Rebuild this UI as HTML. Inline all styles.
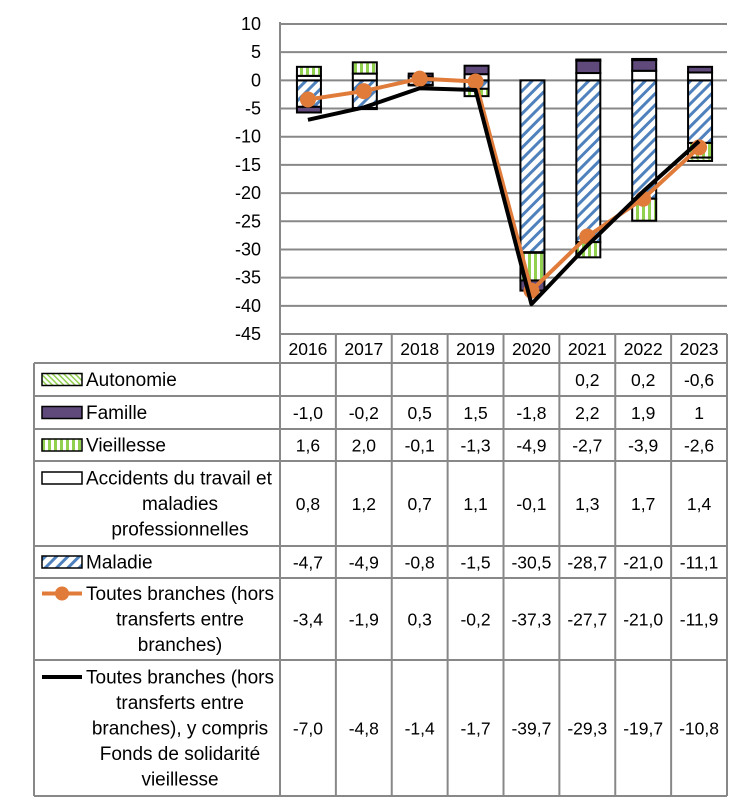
<!DOCTYPE html>
<html><head><meta charset="utf-8">
<style>
html,body{margin:0;padding:0;background:#fff;}
svg{display:block;font-family:"Liberation Sans",sans-serif;}
</style></head>
<body>
<svg id="chart" width="750" height="806" viewBox="0 0 750 806" xmlns="http://www.w3.org/2000/svg">
<defs>
<pattern id="pMal" patternUnits="userSpaceOnUse" width="8" height="8" patternTransform="rotate(45)">
<rect width="8" height="8" fill="#fff"/><rect x="0" width="3" height="8" fill="#4f81bd"/></pattern>
<pattern id="pVie" patternUnits="userSpaceOnUse" width="6" height="6">
<rect width="6" height="6" fill="#fff"/><rect x="0" width="3" height="6" fill="#92d050"/></pattern>
<pattern id="pAut" patternUnits="userSpaceOnUse" width="4" height="4" patternTransform="rotate(-45)">
<rect width="4" height="4" fill="#fff"/><rect x="0" width="1.5" height="4" fill="#92d050"/></pattern>
</defs>
<g id="grid"></g>
<g id="bars"></g>
<g id="lines"></g>
<g id="table"></g>
</svg>
<script>
const years=['2016','2017','2018','2019','2020','2021','2022','2023'];
const maladie=[-4.7,-4.9,-0.8,-1.5,-30.5,-28.7,-21.0,-11.1];
const accidents=[0.8,1.2,0.7,1.1,-0.1,1.3,1.7,1.4];
const vieillesse=[1.6,2.0,-0.1,-1.3,-4.9,-2.7,-3.9,-2.6];
const famille=[-1.0,-0.2,0.5,1.5,-1.8,2.2,1.9,1];
const autonomie=[null,null,null,null,null,0.2,0.2,-0.6];
const toutes=[-3.4,-1.9,0.3,-0.2,-37.3,-27.7,-21.0,-11.9];
const toutesFsv=[-7.0,-4.8,-1.4,-1.7,-39.7,-29.3,-19.7,-10.8];
const yTicks=[10,5,0,-5,-10,-15,-20,-25,-30,-35,-40,-45];
const fmt=v=>v==null?'':(Number.isInteger(v)&&v===1?'1':v.toFixed(1).replace('.',','));

const NS='http://www.w3.org/2000/svg';
const X0=280,X1=727,Y10=24,Ym45=334;
const cw=(X1-X0)/years.length;
const y=v=>Y10+(10-v)*(Ym45-Y10)/55;
const xc=i=>X0+cw*(i+0.5);
function mk(tag,attrs,parent,text){const e=document.createElementNS(NS,tag);for(const k in attrs)e.setAttribute(k,attrs[k]);if(text!=null)e.textContent=text;parent.appendChild(e);return e;}
const G=document.getElementById('grid'),B=document.getElementById('bars'),L=document.getElementById('lines'),T=document.getElementById('table');

yTicks.forEach(t=>{
 const ln=mk('line',{x1:X0,x2:X1,y1:y(t),y2:y(t),stroke:'#888','stroke-width':2},G);
 
 
 const tx=mk('text',{x:261,y:y(t)+6,'text-anchor':'end','font-size':18,fill:'#000'},G,String(t));
 
 
});
const ax=mk('line',{x1:X0,x2:X0,y1:Y10-2,y2:Ym45,stroke:'#888','stroke-width':2},G);



const series=[['maladie',maladie,'url(#pMal)'],['accidents',accidents,'#fff'],['vieillesse',vieillesse,'url(#pVie)'],['famille',famille,'#604a7b'],['autonomie',autonomie,'url(#pAut)']];
const bw=24;
years.forEach((yr,i)=>{
 let pos=0,neg=0;
 series.forEach(([nm,arr,fill])=>{
  const v=arr[i]; if(v==null||v===0)return;
  let a,b; if(v>0){a=pos;b=pos+v;pos=b;}else{a=neg;b=neg+v;neg=b;}
  const top=y(Math.max(a,b)),bot=y(Math.min(a,b));
  const r=mk('rect',{x:xc(i)-bw/2+1,y:top,width:bw,height:Math.max(bot-top,0.5),fill:fill,stroke:'#000','stroke-width':2},B);
  
  
 });
});

function line(arr,color,w,name,markers){
 const p=mk('polyline',{points:arr.map((v,i)=>xc(i)+','+y(v)).join(' '),fill:'none',stroke:color,'stroke-width':w,'stroke-linejoin':'round'},L);
 
 
 if(markers)arr.forEach((v,i)=>{const c=mk('circle',{cx:xc(i),cy:y(v),r:8,fill:color},L);
  
  });
}
line(toutes,'#e07b39',4,'line-toutes-branches',true);
line(toutesFsv,'#000',4,'line-toutes-branches-fsv',false);

const rows=[363,396,429,461,546,578,660,796];
const TL=34;
const hl=(x1,x2,yy)=>{const l=mk('line',{x1:x1,x2:x2,y1:yy,y2:yy,stroke:'#888','stroke-width':2},T);};
const vl=(xx,y1,y2)=>{const l=mk('line',{x1:xx,x2:xx,y1:y1,y2:y2,stroke:'#888','stroke-width':2},T);};
hl(X0,X1,334);
rows.forEach(r=>hl(TL,X1,r));
vl(TL,363,796);
for(let i=0;i<=years.length;i++)vl(X0+cw*i,334,796);
years.forEach((yr,i)=>{const t=mk('text',{x:xc(i),y:355,'text-anchor':'middle','font-size':17.5},T,yr);
 
 });
const tRows=[
 ['autonomie',autonomie,'aut',['Autonomie']],
 ['famille',famille,'fam',['Famille']],
 ['vieillesse',vieillesse,'vie',['Vieillesse']],
 ['accidents',accidents,'acc',['Accidents du travail et','maladies','professionnelles']],
 ['maladie',maladie,'mal',['Maladie']],
 ['toutes',toutes,'lo',['Toutes branches (hors','transferts entre','branches)']],
 ['toutes-fsv',toutesFsv,'lb',['Toutes branches (hors','transferts entre','branches), y compris','Fonds de solidarité','vieillesse']]
];
const fills={aut:'url(#pAut)',fam:'#604a7b',vie:'url(#pVie)',acc:'#fff',mal:'url(#pMal)'};
tRows.forEach(([nm,arr,key,lab],ri)=>{
 const r0=rows[ri],r1=rows[ri+1],mid=(r0+r1)/2;
 const lh=25.5, first=mid-(lab.length-1)*lh/2;
 const ky=first;
 if(fills[key]){const k=mk('rect',{x:42,y:ky-6,width:40,height:12,fill:fills[key],stroke:'#000','stroke-width':1.5},T);
  }
 else{const col=key==='lo'?'#e07b39':'#000';
  const k=mk('line',{x1:42,x2:82,y1:ky,y2:ky,stroke:col,'stroke-width':4},T);
  
  if(key==='lo'){const c=mk('circle',{cx:62,cy:ky,r:7,fill:col},T);}}
 lab.forEach((s,li)=>{
  const t=li===0?mk('text',{x:86,y:first+li*lh+6.5,'font-size':19},T,s):mk('text',{x:180,y:first+li*lh+6.5,'text-anchor':'middle','font-size':19},T,s);
  
  
 });
 arr.forEach((v,i)=>{const t=mk('text',{x:xc(i),y:mid+6.5,'text-anchor':'middle','font-size':17.5},T,fmt(v));
  
  });
});
</script>
</body></html>
